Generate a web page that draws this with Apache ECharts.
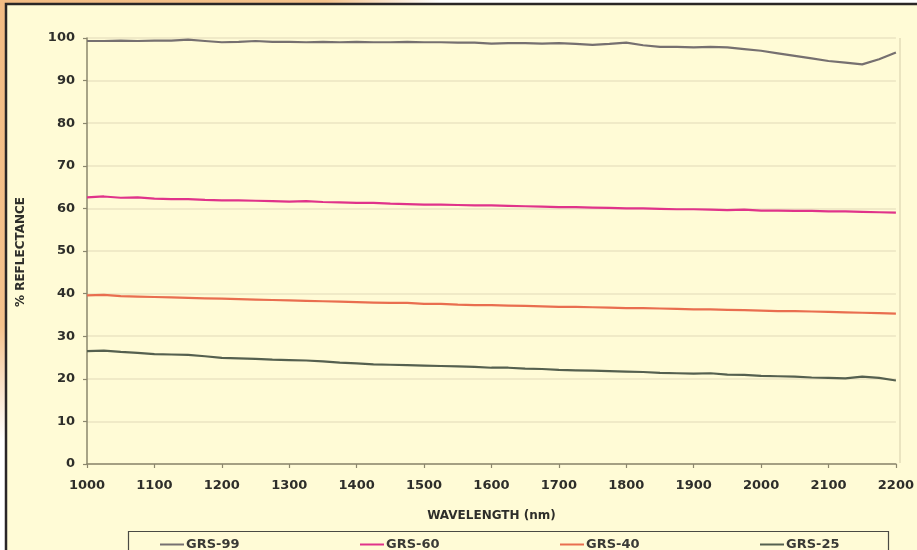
<!DOCTYPE html>
<html>
<head>
<meta charset="utf-8">
<script src="https://cdn.jsdelivr.net/npm/echarts@6/dist/echarts.min.js"></script>
<style>
html,body{margin:0;padding:0;background:#fff;}
#chart{width:917px;height:550px;}
</style>
</head>
<body>
<div id="chart"></div>
<script>
const wavelength = [1000,1025,1050,1075,1100,1125,1150,1175,1200,1225,1250,1275,1300,1325,1350,1375,1400,1425,1450,1475,1500,1525,1550,1575,1600,1625,1650,1675,1700,1725,1750,1775,1800,1825,1850,1875,1900,1925,1950,1975,2000,2025,2050,2075,2100,2125,2150,2175,2200];
const grs99 = [99.3,99.3,99.4,99.3,99.4,99.4,99.6,99.3,99.0,99.1,
  99.3,99.1,99.1,99.0,99.1,99.0,99.1,99.0,99.0,99.1,
  99.0,99.0,98.9,98.9,98.7,98.8,98.8,98.7,98.8,98.6,
  98.4,98.6,98.9,98.3,97.9,97.9,97.8,97.9,97.8,97.4,
  97.0,96.4,95.8,95.2,94.6,94.2,93.8,95.0,96.6];
const grs60 = [62.6,62.8,62.5,62.6,62.3,62.2,62.2,62.0,61.9,61.9,
  61.8,61.7,61.6,61.7,61.5,61.4,61.3,61.3,61.1,61.0,
  60.9,60.9,60.8,60.7,60.7,60.6,60.5,60.4,60.3,60.3,
  60.2,60.1,60.0,60.0,59.9,59.8,59.8,59.7,59.6,59.7,
  59.5,59.5,59.4,59.4,59.3,59.3,59.2,59.1,59.0];
const grs40 = [39.6,39.7,39.4,39.3,39.2,39.1,39.0,38.9,38.8,38.7,
  38.6,38.5,38.4,38.3,38.2,38.1,38.0,37.9,37.8,37.8,
  37.6,37.6,37.4,37.3,37.3,37.2,37.1,37.0,36.9,36.9,
  36.8,36.7,36.6,36.6,36.5,36.4,36.3,36.3,36.2,36.1,
  36.0,35.9,35.9,35.8,35.7,35.6,35.5,35.4,35.3];
const grs25 = [26.5,26.6,26.3,26.1,25.8,25.7,25.6,25.3,24.9,24.8,
  24.7,24.5,24.4,24.3,24.1,23.8,23.6,23.4,23.3,23.2,
  23.1,23.0,22.9,22.8,22.6,22.6,22.4,22.3,22.1,22.0,
  21.9,21.8,21.7,21.6,21.4,21.3,21.2,21.3,21.0,20.9,
  20.7,20.6,20.5,20.3,20.2,20.1,20.5,20.2,19.6];
const seriesNames = ['GRS-99','GRS-60','GRS-40','GRS-25'];
const seriesColors = ['#767070','#e0338a','#e96e4f','#55604f'];
const seriesValues = [grs99, grs60, grs40, grs25];

const FONT = "'DejaVu Sans', Verdana, sans-serif";
const legendLefts = [155, 355, 555, 755];
const chart = echarts.init(document.getElementById('chart'), null, {renderer:'canvas'});
chart.setOption({
  animation:false,
  backgroundColor:'#ffffff',
  graphic:[
    {type:'rect', z:-10, shape:{x:0,y:0,width:917,height:550},
     style:{fill:{type:'radial', x:0, y:0, r:440, global:true,
       colorStops:[{offset:0,color:'#f3bc84'},{offset:0.74,color:'#f4c28c'},{offset:1,color:'#ffffff'}]}}},
    {type:'rect', z:-9, shape:{x:6,y:4,width:1000,height:600},
     style:{fill:'#fffbd6', stroke:'#2a2626', lineWidth:2.5}},
    {type:'rect', z:5, shape:{x:128.5,y:531.5,width:760,height:40},
     style:{fill:'#fffbd6', stroke:'#4a4a44', lineWidth:1.2}},
    {type:'text', z:5, x:21, y:252, rotation:Math.PI/2, style:{text:'% REFLECTANCE', fill:'#2e2e2a', font:"bold 12px 'DejaVu Sans', sans-serif", textAlign:'center', textVerticalAlign:'middle'}},
    {type:'line', z:1, shape:{x1:900,y1:38,x2:900,y2:463}, style:{stroke:'#e3ddb8', lineWidth:1.5}}
  ],
  grid:{left:87, right:17, top:38, bottom:86},
  legend: seriesNames.map((n,i)=>({
    z:10, left:legendLefts[i], top:533, icon:'rect', itemWidth:24, itemHeight:2, itemGap:0,
    data:[n],
    textStyle:{fontFamily:FONT, fontWeight:'bold', fontSize:13, color:'#3a3a36', padding:[0,0,0,-3]}
  })),
  xAxis:{
    type:'value', min:1000, max:2200, interval:100,
    name:'WAVELENGTH (nm)', nameLocation:'middle', nameGap:46,
    nameTextStyle:{fontFamily:FONT, fontWeight:'bold', fontSize:12, color:'#2e2e2a'},
    axisLine:{lineStyle:{color:'#8b876d', width:1.5}},
    axisTick:{show:true, length:4, lineStyle:{color:'#8b876d', width:1.2}},
    axisLabel:{fontFamily:FONT, fontWeight:'bold', fontSize:13, color:'#2e2e2a', margin:15, formatter:v=>String(v)},
    splitLine:{show:false}
  },
  yAxis:{
    type:'value', min:0, max:100, interval:10,
    axisLine:{show:true, lineStyle:{color:'#8b876d', width:1.5}},
    axisTick:{show:true, length:4, lineStyle:{color:'#8b876d', width:1.2}},
    axisLabel:{fontFamily:FONT, fontWeight:'bold', fontSize:13, color:'#2e2e2a', margin:12},
    splitLine:{show:true, lineStyle:{color:'#ebe5c2', width:1.5}}
  },
  series: seriesNames.map((n,i)=>({
    name:n, type:'line', showSymbol:false, symbol:'none',
    data: wavelength.map((w,j)=>[w, seriesValues[i][j]]),
    lineStyle:{color:seriesColors[i], width:2.2}, itemStyle:{color:seriesColors[i]}
  }))
});
</script>
</body>
</html>
